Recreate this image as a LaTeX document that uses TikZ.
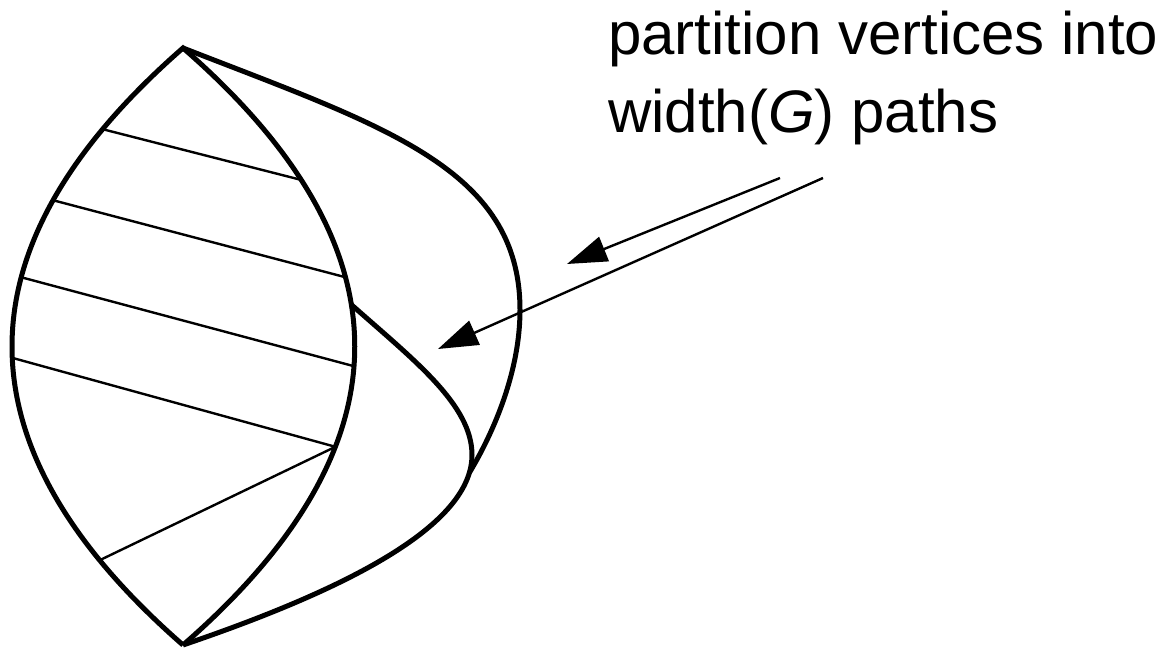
\documentclass[tikz,border=0pt]{standalone}
\usepackage{fontspec}
\setmainfont{Liberation Sans}
\usetikzlibrary{arrows.meta}

\begin{document}
\begin{tikzpicture}[x=1pt, y=-1pt,
  curve/.style={line width=5pt, line join=miter},
  chord/.style={line width=2.4pt},
  pointer/.style={-{Triangle[length=40pt, width=26pt]}, line width=2.4pt},
  caption/.style={anchor=base west, inner sep=0pt, font=\fontsize{60}{72}\selectfont}
]
\useasboundingbox (0,0) rectangle (1170,650);

\coordinate (top) at (183,48);
\coordinate (bot) at (183,645);

% lens, left side up and inner side down
\draw[curve] (bot) .. controls (-45,446) and (-45,247) .. (top)
    coordinate[pos=0.142] (l5) coordinate[pos=0.481] (l4)
    coordinate[pos=0.616] (l3) coordinate[pos=0.745] (l2)
    coordinate[pos=0.864] (l1)
  .. controls (412,247) and (412,446) .. (bot)
    coordinate[pos=0.221] (r1) coordinate[pos=0.384] (r2)
    coordinate[pos=0.43] (start) coordinate[pos=0.533] (r3)
    coordinate[pos=0.668] (r4);

% chords
\draw[chord] (l1) -- (r1);
\draw[chord] (l2) -- (r2);
\draw[chord] (l3) -- (r3);
\draw[chord] (l4) -- (r4);
\draw[chord] (l5) -- (r4);

% second side
\draw[curve] (start) .. controls (415,361) and (472,405) .. (472,455)
  .. controls (472,530) and (330,595) .. (bot)
    coordinate[pos=0.08] (meet);

% outer side
\draw[curve] (top) .. controls (383,126) and (520,168) .. (520,310)
  .. controls (520,370) and (495,430) .. (meet);

% label and pointers
\node[caption] (line1) at (608,55) {partition vertices into};
\node[caption] (line2) at (608,132) {width(\textit{G}) paths};

\coordinate (tail1) at (780,178);
\coordinate (head1) at (567,264);
\coordinate (tail2) at (823,178);
\coordinate (head2) at (438,349);
\draw[pointer] (tail1) -- (head1);
\draw[pointer] (tail2) -- (head2);
\end{tikzpicture}
\end{document}
